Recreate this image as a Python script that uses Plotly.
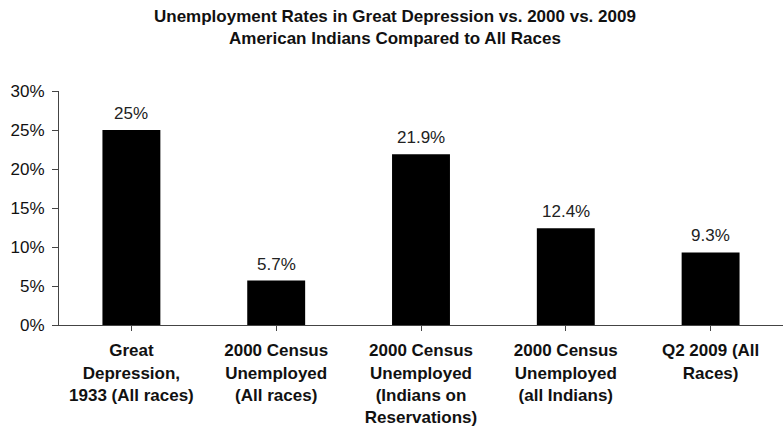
import plotly.graph_objects as go

categories = ["Great<br>Depression,<br>1933 (All races)",
              "2000 Census<br>Unemployed<br>(All races)",
              "2000 Census<br>Unemployed<br>(Indians on<br>Reservations)",
              "2000 Census<br>Unemployed<br>(all Indians)",
              "Q2 2009 (All<br>Races)"]
values = [25.0, 5.7, 21.9, 12.4, 9.3]
value_labels = ["25%", "5.7%", "21.9%", "12.4%", "9.3%"]
ytick_vals = [0, 5, 10, 15, 20, 25, 30]
ytick_text = ["0%", "5%", "10%", "15%", "20%", "25%", "30%"]
title_text = "<b>Unemployment Rates in Great Depression vs. 2000 vs. 2009<br>American Indians Compared to All Races</b>"

font = "Liberation Sans, Arial, sans-serif"
xs = list(range(len(categories)))

fig = go.Figure(go.Bar(
    x=xs, y=values, marker=dict(color="black", line=dict(width=0)),
    width=0.4, hoverinfo="skip",
))

annotations = [dict(x=x, y=v, text=t, xref="x", yref="y", showarrow=False,
                    yanchor="bottom", yshift=5,
                    font=dict(family=font, size=17, color="#222"))
               for x, v, t in zip(xs, values, value_labels)]
annotations.append(dict(text=title_text, xref="paper", yref="paper",
                        x=(395 - 59) / 724, y=1 + (91 - 5) / 234,
                        xanchor="center", yanchor="top", showarrow=False,
                        font=dict(family=font, size=17, color="#111")))

fig.update_layout(
    width=783, height=427,
    margin=dict(l=59, r=0, t=91, b=102),
    paper_bgcolor="white", plot_bgcolor="white",
    showlegend=False,
    annotations=annotations,
    xaxis=dict(range=[-0.5, 4.5], tickmode="array", tickvals=xs,
               ticktext=["<b>%s</b>" % c for c in categories],
               tickson="boundaries", ticks="outside", ticklen=5, tickcolor="#444",
               showline=True, linecolor="#444", linewidth=1, showgrid=False,
               ticklabelstandoff=5,
               tickfont=dict(family=font, size=17, color="#111"), fixedrange=True),
    yaxis=dict(range=[0, 30], tickmode="array", tickvals=ytick_vals, ticktext=ytick_text,
               ticks="outside", ticklen=6, tickcolor="#444",
               showline=True, linecolor="#444", linewidth=1, showgrid=False, zeroline=False,
               ticklabelstandoff=4,
               tickfont=dict(family=font, size=17, color="#111")),
)

fig.write_html("out.html", config={"displayModeBar": False},
               post_script="document.body.style.margin='0';")
